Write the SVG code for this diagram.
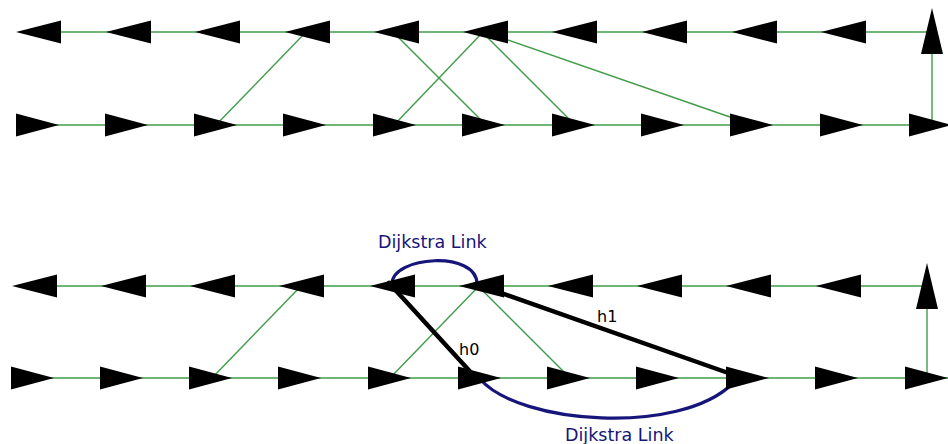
<svg xmlns="http://www.w3.org/2000/svg" xmlns:xlink="http://www.w3.org/1999/xlink" width="948" height="444" viewBox="0 0 948 444">
  <style>
    .edge { stroke: #3f9c48; stroke-width: 1.4; fill: none; }
    .hop { stroke: #000000; stroke-width: 4.5; fill: none; stroke-linecap: round; }
    .dijkstra { stroke: #15157a; stroke-width: 3.2; fill: none; stroke-linecap: round; }
    .node { fill: #000000; }
    .lbl-d { font-family: "DejaVu Sans", "Liberation Sans", sans-serif; font-size: 17.5px; fill: #15157a; }
    .lbl-h { font-family: "DejaVu Sans", "Liberation Sans", sans-serif; font-size: 16px; fill: #000000; }
  </style>
  <defs>
    <!-- left-pointing node, origin at tip -->
    <path id="tri-left" d="M0,0 L45,-11.5 L45,11.5 Z"/>
    <!-- right-pointing node, origin at base centre -->
    <path id="tri-right" d="M0,-11.5 L43,0 L0,11.5 Z"/>
    <!-- up-pointing node, origin at tip -->
    <path id="tri-up" d="M0,0 L11,46 L-11,46 Z"/>
  </defs>
  <rect width="948" height="444" fill="#ffffff"/>

  <!-- ===== upper graph ===== -->
  <g id="connectors-upper">
    <line class="edge" x1="40" y1="32" x2="932" y2="32"/>
    <line class="edge" x1="30" y1="125" x2="948" y2="125"/>
    <line class="edge" x1="932" y1="54" x2="932" y2="125"/>
    <line class="edge" x1="306" y1="32" x2="216" y2="125"/>
    <line class="edge" x1="393" y1="32" x2="486" y2="125"/>
    <line class="edge" x1="483" y1="32" x2="394" y2="125"/>
    <line class="edge" x1="482" y1="32" x2="575" y2="125"/>
    <line class="edge" x1="485" y1="32" x2="753" y2="125"/>
  </g>
  <g id="nodes-upper" class="node">
    <g id="u-t1"><use xlink:href="#tri-left" x="16" y="32"/></g>
    <g id="u-t2"><use xlink:href="#tri-left" x="106" y="32"/></g>
    <g id="u-t3"><use xlink:href="#tri-left" x="195" y="32"/></g>
    <g id="u-t4"><use xlink:href="#tri-left" x="285" y="32"/></g>
    <g id="u-t5"><use xlink:href="#tri-left" x="374" y="32"/></g>
    <g id="u-t6"><use xlink:href="#tri-left" x="463" y="32"/></g>
    <g id="u-t7"><use xlink:href="#tri-left" x="552" y="32"/></g>
    <g id="u-t8"><use xlink:href="#tri-left" x="642" y="32"/></g>
    <g id="u-t9"><use xlink:href="#tri-left" x="732" y="32"/></g>
    <g id="u-t10"><use xlink:href="#tri-left" x="821" y="32"/></g>
    <g id="u-up"><use xlink:href="#tri-up" x="932" y="8"/></g>
    <g id="u-b1"><use xlink:href="#tri-right" x="16" y="125"/></g>
    <g id="u-b2"><use xlink:href="#tri-right" x="105" y="125"/></g>
    <g id="u-b3"><use xlink:href="#tri-right" x="194" y="125"/></g>
    <g id="u-b4"><use xlink:href="#tri-right" x="283" y="125"/></g>
    <g id="u-b5"><use xlink:href="#tri-right" x="373" y="125"/></g>
    <g id="u-b6"><use xlink:href="#tri-right" x="462" y="125"/></g>
    <g id="u-b7"><use xlink:href="#tri-right" x="552" y="125"/></g>
    <g id="u-b8"><use xlink:href="#tri-right" x="641" y="125"/></g>
    <g id="u-b9"><use xlink:href="#tri-right" x="730" y="125"/></g>
    <g id="u-b10"><use xlink:href="#tri-right" x="820" y="125"/></g>
    <g id="u-b11"><use xlink:href="#tri-right" x="909" y="125"/></g>
  </g>

  <!-- ===== lower graph with hops and Dijkstra links ===== -->
  <g id="connectors-lower">
    <line class="edge" x1="36" y1="286" x2="927" y2="286"/>
    <line class="edge" x1="25" y1="378" x2="948" y2="378"/>
    <line class="edge" x1="927" y1="308" x2="927" y2="378"/>
    <line class="edge" x1="301" y1="286" x2="212" y2="378"/>
    <line class="edge" x1="479" y1="286" x2="390" y2="378"/>
    <line class="edge" x1="478" y1="286" x2="570" y2="378"/>
    <path class="dijkstra" d="M392,284 C392,256 477,250 477,284"/>
    <path class="dijkstra" d="M480,379 C520,425 680,435 732,384"/>
  </g>
  <g id="nodes-lower" class="node">
    <g id="l-t1"><use xlink:href="#tri-left" x="12" y="286"/></g>
    <g id="l-t2"><use xlink:href="#tri-left" x="101" y="286"/></g>
    <g id="l-t3"><use xlink:href="#tri-left" x="190" y="286"/></g>
    <g id="l-t4"><use xlink:href="#tri-left" x="279" y="286"/></g>
    <g id="l-t5"><use xlink:href="#tri-left" x="370" y="286"/></g>
    <g id="l-t6"><use xlink:href="#tri-left" x="459" y="286"/></g>
    <g id="l-t7"><use xlink:href="#tri-left" x="548" y="286"/></g>
    <g id="l-t8"><use xlink:href="#tri-left" x="637" y="286"/></g>
    <g id="l-t9"><use xlink:href="#tri-left" x="726" y="286"/></g>
    <g id="l-t10"><use xlink:href="#tri-left" x="816" y="286"/></g>
    <g id="l-up"><use xlink:href="#tri-up" x="927" y="263"/></g>
    <g id="l-b1"><use xlink:href="#tri-right" x="11" y="378"/></g>
    <g id="l-b2"><use xlink:href="#tri-right" x="100" y="378"/></g>
    <g id="l-b3"><use xlink:href="#tri-right" x="189" y="378"/></g>
    <g id="l-b4"><use xlink:href="#tri-right" x="278" y="378"/></g>
    <g id="l-b5"><use xlink:href="#tri-right" x="368" y="378"/></g>
    <g id="l-b6"><use xlink:href="#tri-right" x="458" y="378"/></g>
    <g id="l-b7"><use xlink:href="#tri-right" x="547" y="378"/></g>
    <g id="l-b8"><use xlink:href="#tri-right" x="636" y="378"/></g>
    <g id="l-b9"><use xlink:href="#tri-right" x="726" y="378"/></g>
    <g id="l-b10"><use xlink:href="#tri-right" x="815" y="378"/></g>
    <g id="l-b11"><use xlink:href="#tri-right" x="905" y="378"/></g>
  </g>
  <g id="hops">
    <line class="hop" x1="389" y1="283" x2="476" y2="378"/>
    <line class="hop" x1="487" y1="288" x2="734" y2="375"/>
  </g>
  <g id="labels">
    <text class="lbl-d" x="378" y="248">Dijkstra Link</text>
    <text class="lbl-d" x="565" y="441">Dijkstra Link</text>
    <text class="lbl-h" x="597" y="322">h1</text>
    <text class="lbl-h" x="459" y="355">h0</text>
  </g>
</svg>
